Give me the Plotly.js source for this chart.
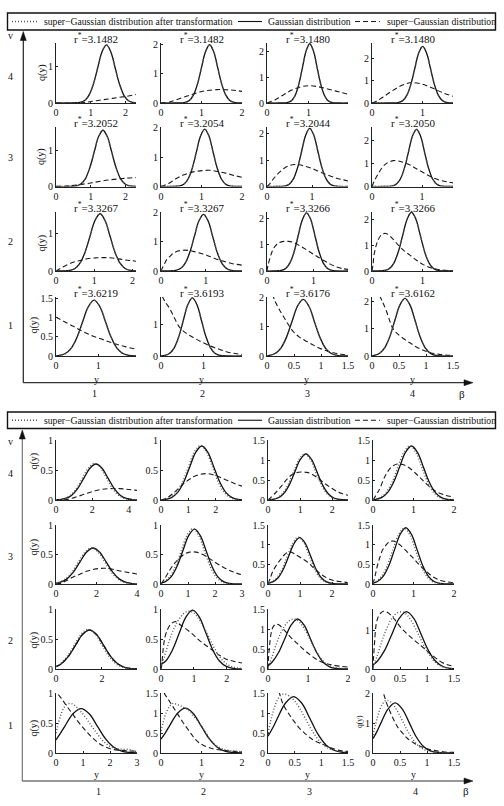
<!DOCTYPE html>
<html>
<head>
<meta charset="utf-8">
<script src="https://cdn.plot.ly/plotly-3.0.1.min.js"></script>
<style>
  html, body { margin: 0; padding: 0; background: #fff; }
  #chart { width: 504px; height: 806px; }
</style>
</head>
<body>
<div id="chart"></div>
<script>
// ---------------------------------------------------------------------------
// Curve samples q(y), written as [y, q] pairs. One array per row (v) and
// per series; each array holds the four panels β = 1, 2, 3, 4.
// Upper figure: transformed super-Gaussian coincides with the Gaussian.
// ---------------------------------------------------------------------------

// Upper figure, Gaussian distribution
const gaussA4 = [
  [[0,0],[0.45,0],[0.7,0.018],[0.825,0.07],[0.95,0.216],[1.075,0.52],[1.2,0.97],[1.325,1.412],[1.45,1.6],[1.575,1.412],[1.7,0.97],[1.825,0.52],[1.95,0.216],[2.075,0.07],[2.2,0.018],[2.3,0.004]],
  [[0,0],[0.35,0],[0.6,0.022],[0.7,0.088],[0.8,0.271],[0.9,0.649],[1.0,1.213],[1.1,1.765],[1.2,2.0],[1.3,1.765],[1.4,1.213],[1.5,0.649],[1.6,0.271],[1.7,0.088],[1.8,0.022],[2.0,0.001]],
  [[0,0],[0.3,0],[0.508,0.026],[0.595,0.101],[0.682,0.311],[0.769,0.747],[0.856,1.395],[0.943,2.03],[1.03,2.3],[1.117,2.03],[1.204,1.395],[1.291,0.747],[1.378,0.311],[1.465,0.101],[1.552,0.026],[1.75,0],[1.95,0]],
  [[0,0],[0.3,0],[0.532,0.028],[0.61,0.112],[0.688,0.345],[0.766,0.828],[0.844,1.547],[0.922,2.25],[1.0,2.55],[1.078,2.25],[1.156,1.547],[1.234,0.828],[1.312,0.345],[1.39,0.112],[1.468,0.028],[1.6,0.002]]
];
const gaussA3 = [
  [[0,0],[0.35,0],[0.588,0.017],[0.715,0.069],[0.842,0.212],[0.969,0.51],[1.096,0.952],[1.223,1.386],[1.35,1.57],[1.477,1.386],[1.604,0.952],[1.731,0.51],[1.858,0.212],[1.985,0.069],[2.112,0.017],[2.3,0.001]],
  [[0,0],[0.25,0],[0.468,0.022],[0.57,0.086],[0.672,0.264],[0.774,0.633],[0.876,1.183],[0.978,1.721],[1.08,1.95],[1.182,1.721],[1.284,1.183],[1.386,0.633],[1.488,0.264],[1.59,0.086],[1.692,0.022],[2.0,0]],
  [[0,0],[0.2,0],[0.41,0.024],[0.5,0.097],[0.59,0.298],[0.68,0.714],[0.77,1.334],[0.86,1.942],[0.95,2.2],[1.04,1.942],[1.13,1.334],[1.22,0.714],[1.31,0.298],[1.4,0.097],[1.49,0.024],[1.8,0]],
  [[0,0],[0.2,0],[0.41,0.028],[0.49,0.11],[0.57,0.338],[0.65,0.812],[0.73,1.516],[0.81,2.206],[0.89,2.5],[0.97,2.206],[1.05,1.516],[1.13,0.812],[1.21,0.338],[1.29,0.11],[1.37,0.028],[1.62,0]]
];
const gaussA2 = [
  [[0,0],[0.15,0.001],[0.364,0.017],[0.495,0.067],[0.626,0.206],[0.757,0.494],[0.888,0.922],[1.019,1.341],[1.15,1.52],[1.281,1.341],[1.412,0.922],[1.543,0.494],[1.674,0.206],[1.805,0.067],[1.936,0.017],[2.09,0.002]],
  [[0,0],[0.15,0.001],[0.332,0.021],[0.435,0.085],[0.538,0.261],[0.641,0.627],[0.744,1.171],[0.847,1.703],[0.95,1.93],[1.053,1.703],[1.156,1.171],[1.259,0.627],[1.362,0.261],[1.465,0.085],[1.568,0.021],[1.81,0]],
  [[0,0],[0.12,0],[0.31,0.024],[0.4,0.097],[0.49,0.298],[0.58,0.714],[0.67,1.334],[0.76,1.942],[0.85,2.2],[0.94,1.942],[1.03,1.334],[1.12,0.714],[1.21,0.298],[1.3,0.097],[1.39,0.024],[1.74,0]],
  [[0,0],[0.08,0.001],[0.258,0.026],[0.345,0.101],[0.432,0.311],[0.519,0.747],[0.606,1.395],[0.693,2.03],[0.78,2.3],[0.867,2.03],[0.954,1.395],[1.041,0.747],[1.128,0.311],[1.215,0.101],[1.302,0.026],[1.6,0]]
];
const gaussA1 = [
  [[0,0.006],[0.084,0.016],[0.22,0.065],[0.356,0.199],[0.492,0.477],[0.628,0.892],[0.764,1.297],[0.9,1.47],[1.036,1.297],[1.172,0.892],[1.308,0.477],[1.444,0.199],[1.58,0.065],[1.716,0.016],[1.89,0.003]],
  [[0,0.005],[0.092,0.021],[0.2,0.081],[0.308,0.25],[0.416,0.601],[0.524,1.122],[0.632,1.633],[0.74,1.85],[0.848,1.633],[0.956,1.122],[1.064,0.601],[1.172,0.25],[1.28,0.081],[1.388,0.021],[1.6,0.001],[1.91,0]],
  [[0,0.01],[0.046,0.021],[0.15,0.084],[0.254,0.26],[0.358,0.623],[0.462,1.164],[0.566,1.694],[0.67,1.92],[0.774,1.694],[0.878,1.164],[0.982,0.623],[1.086,0.26],[1.19,0.084],[1.294,0.021],[1.5,0]],
  [[0,0.012],[0.04,0.023],[0.135,0.092],[0.23,0.284],[0.325,0.682],[0.42,1.274],[0.515,1.853],[0.61,2.1],[0.705,1.853],[0.8,1.274],[0.895,0.682],[0.99,0.284],[1.085,0.092],[1.18,0.023],[1.5,0]]
];

// Upper figure, super-Gaussian distribution
const superA4 = [
  [[0,0],[0.5,0],[0.8,0.01],[1.0,0.04],[1.25,0.075],[1.5,0.11],[1.75,0.145],[2.0,0.18],[2.3,0.23]],
  [[0,0],[0.1,0.005],[0.21,0.03],[0.4,0.12],[0.63,0.23],[0.8,0.31],[0.96,0.38],[1.15,0.43],[1.38,0.46],[1.6,0.455],[1.79,0.44],[2.0,0.4]],
  [[0,0],[0.2,0.13],[0.41,0.33],[0.6,0.5],[0.82,0.63],[1.02,0.67],[1.2,0.64],[1.4,0.57],[1.64,0.47],[1.8,0.4],[1.95,0.34]],
  [[0,0],[0.1,0.1],[0.22,0.27],[0.38,0.52],[0.55,0.75],[0.68,0.87],[0.79,0.92],[0.95,0.87],[1.08,0.78],[1.22,0.65],[1.4,0.46],[1.6,0.3]]
];
const superA3 = [
  [[0,0],[0.3,0.01],[0.6,0.04],[1.0,0.1],[1.5,0.18],[2.0,0.23],[2.3,0.25]],
  [[0,0],[0.1,0.05],[0.22,0.13],[0.38,0.27],[0.55,0.39],[0.75,0.48],[0.96,0.53],[1.21,0.55],[1.42,0.5],[1.63,0.44],[1.82,0.37],[2.0,0.31]],
  [[0,0],[0.07,0.12],[0.16,0.33],[0.28,0.54],[0.39,0.7],[0.5,0.79],[0.61,0.83],[0.72,0.82],[0.84,0.77],[1.0,0.68],[1.22,0.52],[1.52,0.33],[1.8,0.21]],
  [[0,0],[0.06,0.3],[0.13,0.58],[0.2,0.82],[0.27,0.98],[0.35,1.08],[0.43,1.13],[0.52,1.12],[0.6,1.07],[0.75,0.95],[0.87,0.8],[1.03,0.6],[1.2,0.4],[1.4,0.25],[1.62,0.16]]
];
const superA2 = [
  [[0,0],[0.1,0.06],[0.28,0.16],[0.45,0.23],[0.63,0.28],[0.85,0.33],[1.06,0.35],[1.25,0.355],[1.41,0.35],[1.6,0.33],[1.76,0.3],[1.93,0.28],[2.09,0.26]],
  [[0,0],[0.03,0.1],[0.07,0.22],[0.12,0.37],[0.2,0.5],[0.27,0.6],[0.38,0.68],[0.5,0.71],[0.62,0.7],[0.72,0.67],[0.87,0.61],[1.02,0.54],[1.2,0.43],[1.4,0.33],[1.6,0.25],[1.81,0.2]],
  [[0,0],[0.02,0.2],[0.07,0.53],[0.12,0.78],[0.18,0.95],[0.27,1.08],[0.36,1.12],[0.46,1.12],[0.57,1.08],[0.7,0.96],[0.86,0.79],[1.03,0.6],[1.21,0.41],[1.36,0.26],[1.5,0.15],[1.62,0.09],[1.74,0.06]],
  [[0,0],[0.02,0.25],[0.04,0.62],[0.08,0.98],[0.12,1.21],[0.17,1.38],[0.22,1.46],[0.27,1.47],[0.32,1.43],[0.42,1.24],[0.52,1.01],[0.63,0.8],[0.75,0.62],[0.88,0.42],[1.01,0.25],[1.14,0.14],[1.28,0.07],[1.44,0.03],[1.6,0.01]]
];
const superA1 = [
  [[0,1.02],[0.2,0.9],[0.41,0.78],[0.57,0.68],[0.72,0.6],[0.88,0.52],[1.04,0.46],[1.23,0.38],[1.43,0.31],[1.65,0.24],[1.89,0.18]],
  [[0.03,1.9],[0.1,1.72],[0.21,1.5],[0.32,1.2],[0.44,0.91],[0.6,0.72],[0.76,0.59],[0.95,0.45],[1.16,0.32],[1.36,0.22],[1.56,0.13],[1.75,0.08],[1.91,0.05]],
  [[0.1,2.1],[0.14,1.9],[0.22,1.6],[0.31,1.32],[0.4,1.05],[0.49,0.82],[0.6,0.64],[0.74,0.49],[0.87,0.36],[0.99,0.25],[1.11,0.17],[1.23,0.11],[1.37,0.06],[1.5,0.03]],
  [[0.14,2.2],[0.2,1.95],[0.27,1.62],[0.33,1.27],[0.39,0.99],[0.46,0.83],[0.58,0.64],[0.7,0.48],[0.83,0.32],[0.95,0.21],[1.08,0.12],[1.25,0.06],[1.5,0.02]]
];

// Lower figure, Gaussian distribution
const gaussB4 = [
  [[0,0.004],[0.202,0.007],[0.535,0.026],[0.868,0.081],[1.201,0.195],[1.534,0.364],[1.867,0.53],[2.2,0.6],[2.533,0.53],[2.866,0.364],[3.199,0.195],[3.532,0.081],[3.865,0.026],[4.198,0.007],[4.46,0.003]],
  [[0,0.003],[0.158,0.01],[0.38,0.04],[0.602,0.122],[0.824,0.292],[1.046,0.546],[1.268,0.794],[1.49,0.9],[1.712,0.794],[1.934,0.546],[2.156,0.292],[2.378,0.122],[2.6,0.04],[2.822,0.01],[2.96,0.004]],
  [[0,0.004],[0.136,0.013],[0.31,0.05],[0.484,0.156],[0.658,0.373],[0.832,0.697],[1.006,1.015],[1.18,1.15],[1.354,1.015],[1.528,0.697],[1.702,0.373],[1.876,0.156],[2.05,0.05],[2.224,0.013],[2.49,0.001]],
  [[0,0.008],[0.062,0.015],[0.21,0.059],[0.358,0.183],[0.506,0.438],[0.654,0.819],[0.802,1.191],[0.95,1.35],[1.098,1.191],[1.246,0.819],[1.394,0.438],[1.542,0.183],[1.69,0.059],[1.838,0.015],[2.0,0.003]]
];
const gaussB3 = [
  [[0,0.012],[0.195,0.027],[0.522,0.083],[0.849,0.198],[1.176,0.37],[1.503,0.538],[1.83,0.61],[2.157,0.538],[2.484,0.37],[2.811,0.198],[3.138,0.083],[3.465,0.027],[3.792,0.007],[4.0,0.003]],
  [[0,0.015],[0.165,0.041],[0.38,0.126],[0.595,0.302],[0.81,0.564],[1.025,0.821],[1.24,0.93],[1.455,0.821],[1.67,0.564],[1.885,0.302],[2.1,0.126],[2.315,0.041],[2.53,0.01],[3.0,0]],
  [[0,0.016],[0.145,0.052],[0.314,0.16],[0.483,0.383],[0.652,0.716],[0.821,1.041],[0.99,1.18],[1.159,1.041],[1.328,0.716],[1.497,0.383],[1.666,0.16],[1.835,0.052],[2.004,0.013],[2.5,0]],
  [[0,0.021],[0.11,0.063],[0.25,0.193],[0.39,0.464],[0.53,0.867],[0.67,1.262],[0.81,1.43],[0.95,1.262],[1.09,0.867],[1.23,0.464],[1.37,0.193],[1.51,0.063],[1.65,0.016],[2.0,0]]
];
const gaussB2 = [
  [[0,0.038],[0.234,0.088],[0.541,0.211],[0.848,0.394],[1.153,0.574],[1.46,0.65],[1.767,0.574],[2.074,0.394],[2.381,0.211],[2.688,0.088],[2.995,0.029],[3.302,0.007],[3.53,0.002]],
  [[0,0.08],[0.144,0.133],[0.348,0.318],[0.552,0.594],[0.756,0.865],[0.96,0.98],[1.164,0.865],[1.368,0.594],[1.572,0.318],[1.776,0.133],[1.98,0.043],[2.184,0.011],[2.45,0.001]],
  [[0,0.085],[0.1,0.169],[0.26,0.406],[0.42,0.758],[0.58,1.103],[0.74,1.25],[0.9,1.103],[1.06,0.758],[1.22,0.406],[1.38,0.169],[1.54,0.055],[1.7,0.014],[2.0,0.001]],
  [[0,0.105],[0.08,0.2],[0.215,0.481],[0.35,0.898],[0.485,1.306],[0.62,1.48],[0.755,1.306],[0.89,0.898],[1.025,0.481],[1.16,0.2],[1.295,0.065],[1.43,0.016],[1.5,0.007]]
];
const gaussB1 = [
  [[0,0.22],[0.18,0.339],[0.33,0.449],[0.63,0.653],[0.93,0.74],[1.23,0.653],[1.53,0.449],[1.83,0.24],[2.13,0.1],[2.43,0.032],[2.73,0.008],[3.0,0.002]],
  [[0,0.35],[0.1,0.49],[0.21,0.679],[0.405,0.988],[0.6,1.12],[0.795,0.988],[0.99,0.679],[1.185,0.364],[1.38,0.152],[1.575,0.049],[1.77,0.012],[2.0,0.002]],
  [[0,0.42],[0.09,0.63],[0.172,0.855],[0.326,1.244],[0.48,1.41],[0.634,1.244],[0.788,0.855],[0.942,0.458],[1.096,0.191],[1.25,0.062],[1.404,0.016],[1.5,0.006]],
  [[0,0.48],[0.075,0.72],[0.15,1.013],[0.28,1.474],[0.41,1.67],[0.54,1.474],[0.67,1.013],[0.8,0.542],[0.93,0.226],[1.06,0.073],[1.19,0.019],[1.32,0.004],[1.5,0]]
];

// Lower figure, super-Gaussian distribution after transformation
const transB4 = [
  [[0,0.004],[0.158,0.007],[0.485,0.027],[0.812,0.083],[1.139,0.198],[1.466,0.37],[1.793,0.538],[2.12,0.61],[2.447,0.538],[2.774,0.37],[3.101,0.198],[3.428,0.083],[3.755,0.027],[4.082,0.007],[4.46,0.002]],
  [[0,0.004],[0.126,0.01],[0.345,0.04],[0.564,0.123],[0.783,0.295],[1.002,0.552],[1.221,0.803],[1.44,0.91],[1.659,0.803],[1.878,0.552],[2.097,0.295],[2.316,0.123],[2.535,0.04],[2.754,0.01],[2.96,0.002]],
  [[0,0.005],[0.096,0.013],[0.27,0.05],[0.444,0.156],[0.618,0.373],[0.792,0.697],[0.966,1.015],[1.14,1.15],[1.314,1.015],[1.488,0.697],[1.662,0.373],[1.836,0.156],[2.01,0.05],[2.184,0.013],[2.49,0.001]],
  [[0,0.012],[0.17,0.059],[0.318,0.183],[0.466,0.438],[0.614,0.819],[0.762,1.191],[0.91,1.35],[1.058,1.191],[1.206,0.819],[1.354,0.438],[1.502,0.183],[1.65,0.059],[1.798,0.015],[2.0,0.002]]
];
const transB3 = [
  [[0,0.016],[0.125,0.027],[0.452,0.083],[0.779,0.198],[1.106,0.37],[1.433,0.538],[1.76,0.61],[2.087,0.538],[2.414,0.37],[2.741,0.198],[3.068,0.083],[3.395,0.027],[3.722,0.007],[4.0,0.002]],
  [[0,0.02],[0.12,0.041],[0.332,0.127],[0.544,0.305],[0.756,0.57],[0.968,0.83],[1.18,0.94],[1.392,0.83],[1.604,0.57],[1.816,0.305],[2.028,0.127],[2.24,0.041],[2.452,0.01],[3.0,0]],
  [[0,0.022],[0.11,0.052],[0.278,0.161],[0.446,0.386],[0.614,0.722],[0.782,1.05],[0.95,1.19],[1.118,1.05],[1.286,0.722],[1.454,0.386],[1.622,0.161],[1.79,0.052],[1.958,0.013],[2.5,0]],
  [[0,0.03],[0.07,0.062],[0.21,0.192],[0.35,0.461],[0.49,0.861],[0.63,1.253],[0.77,1.42],[0.91,1.253],[1.05,0.861],[1.19,0.461],[1.33,0.192],[1.47,0.062],[1.61,0.016],[2.0,0]]
];
const transB2 = [
  [[0,0.045],[0.192,0.089],[0.494,0.214],[0.796,0.4],[1.098,0.582],[1.4,0.66],[1.702,0.582],[2.004,0.4],[2.306,0.214],[2.608,0.089],[2.91,0.029],[3.212,0.007],[3.53,0.001]],
  [[0,0.05],[0.1,0.2],[0.2,0.38],[0.3,0.55],[0.4,0.68],[0.5,0.79],[0.6,0.87],[0.7,0.93],[0.8,0.96],[0.9,0.96],[1.0,0.93],[1.1,0.87],[1.2,0.79],[1.4,0.59],[1.6,0.37],[1.8,0.19],[2.0,0.08],[2.2,0.03],[2.45,0.01]],
  [[0,0.05],[0.1,0.3],[0.2,0.6],[0.3,0.86],[0.4,1.05],[0.5,1.18],[0.6,1.24],[0.7,1.24],[0.8,1.16],[0.9,1.02],[1.0,0.84],[1.1,0.64],[1.2,0.46],[1.3,0.3],[1.4,0.18],[1.5,0.1],[1.65,0.04],[1.8,0.02],[2.0,0.01]],
  [[0,0.05],[0.08,0.35],[0.16,0.7],[0.24,1.0],[0.32,1.24],[0.4,1.4],[0.48,1.47],[0.56,1.47],[0.64,1.38],[0.72,1.22],[0.8,1.01],[0.88,0.78],[0.96,0.56],[1.04,0.37],[1.12,0.22],[1.2,0.12],[1.3,0.05],[1.4,0.02],[1.5,0.01]]
];
const transB1 = [
  [[0,0.33],[0.1,0.52],[0.2,0.66],[0.3,0.76],[0.45,0.82],[0.6,0.82],[0.75,0.77],[0.9,0.7],[1.1,0.59],[1.3,0.46],[1.5,0.34],[1.7,0.22],[1.9,0.14],[2.1,0.09],[2.3,0.07],[2.5,0.06],[2.7,0.06],[2.85,0.04],[3.0,0.02]],
  [[0,0.55],[0.05,0.75],[0.1,0.93],[0.15,1.06],[0.22,1.18],[0.3,1.24],[0.38,1.22],[0.5,1.17],[0.68,1.07],[0.8,0.93],[0.95,0.74],[1.08,0.55],[1.2,0.36],[1.32,0.22],[1.45,0.14],[1.6,0.08],[1.8,0.05],[2.0,0.03]],
  [[0,0.5],[0.05,0.8],[0.1,1.05],[0.15,1.25],[0.2,1.38],[0.26,1.46],[0.32,1.47],[0.4,1.42],[0.5,1.3],[0.6,1.1],[0.7,0.86],[0.8,0.62],[0.9,0.41],[1.0,0.25],[1.1,0.14],[1.2,0.08],[1.35,0.04],[1.5,0.02]],
  [[0,0.6],[0.04,0.9],[0.08,1.18],[0.12,1.42],[0.17,1.62],[0.22,1.73],[0.27,1.75],[0.33,1.7],[0.4,1.55],[0.48,1.3],[0.56,1.02],[0.64,0.74],[0.72,0.5],[0.8,0.31],[0.9,0.16],[1.0,0.08],[1.15,0.03],[1.5,0]]
];

// Lower figure, super-Gaussian distribution (v = 2, β = 1 lies on the Gaussian)
const superB4 = [
  [[0,0],[0.5,0.003],[1,0.04],[1.5,0.09],[2,0.14],[2.5,0.175],[3,0.19],[3.5,0.19],[4,0.175],[4.46,0.16]],
  [[0,0],[0.2,0.03],[0.44,0.11],[0.7,0.22],[0.93,0.31],[1.2,0.39],[1.45,0.43],[1.67,0.44],[1.9,0.42],[2.16,0.38],[2.4,0.33],[2.66,0.28],[2.96,0.23]],
  [[0,0],[0.2,0.15],[0.41,0.34],[0.6,0.53],[0.8,0.66],[1.03,0.7],[1.2,0.69],[1.33,0.66],[1.55,0.55],[1.74,0.43],[1.95,0.31],[2.15,0.21],[2.3,0.16],[2.49,0.12]],
  [[0,0],[0.15,0.25],[0.3,0.6],[0.45,0.82],[0.6,0.9],[0.75,0.88],[0.9,0.8],[1.1,0.62],[1.3,0.42],[1.5,0.25],[1.75,0.13],[2.0,0.07]]
];
const superB3 = [
  [[0,0],[0.3,0.02],[0.53,0.06],[0.85,0.12],[1.2,0.17],[1.55,0.22],[1.87,0.25],[2.2,0.265],[2.5,0.265],[2.8,0.25],[3.1,0.225],[3.5,0.2],[4.0,0.17]],
  [[0,0],[0.15,0.1],[0.32,0.23],[0.5,0.35],[0.69,0.44],[0.88,0.51],[1.06,0.54],[1.3,0.54],[1.55,0.5],[1.8,0.43],[2.1,0.34],[2.41,0.26],[2.7,0.2],[2.96,0.16]],
  [[0,0],[0.07,0.15],[0.15,0.32],[0.28,0.5],[0.41,0.64],[0.52,0.75],[0.62,0.81],[0.72,0.81],[0.82,0.77],[1.0,0.68],[1.23,0.56],[1.44,0.4],[1.64,0.26],[1.85,0.15],[2.05,0.09],[2.27,0.06],[2.49,0.04]],
  [[0,0],[0.05,0.2],[0.11,0.47],[0.17,0.68],[0.23,0.85],[0.32,0.99],[0.4,1.07],[0.46,1.09],[0.52,1.09],[0.6,1.04],[0.68,0.98],[0.85,0.81],[1.01,0.64],[1.17,0.46],[1.34,0.3],[1.5,0.17],[1.67,0.09],[1.85,0.05],[2.0,0.03]]
];
const superB2 = [
  gaussB2[0],
  [[0,0],[0.02,0.05],[0.06,0.3],[0.12,0.53],[0.2,0.66],[0.3,0.75],[0.44,0.79],[0.6,0.73],[0.78,0.66],[1.0,0.56],[1.18,0.47],[1.4,0.38],[1.59,0.3],[1.8,0.22],[2.0,0.16],[2.2,0.13],[2.46,0.1]],
  [[0,0],[0.015,0.3],[0.04,0.6],[0.08,0.9],[0.13,1.06],[0.2,1.12],[0.28,1.1],[0.4,0.98],[0.58,0.78],[0.75,0.62],[0.9,0.48],[1.06,0.35],[1.23,0.23],[1.4,0.15],[1.56,0.11],[1.8,0.07],[2.0,0.05]],
  [[0,0],[0.01,0.3],[0.03,0.7],[0.06,1.17],[0.1,1.36],[0.14,1.44],[0.19,1.49],[0.24,1.48],[0.3,1.43],[0.4,1.28],[0.51,1.08],[0.63,0.91],[0.76,0.75],[0.89,0.6],[1.01,0.45],[1.13,0.32],[1.25,0.19],[1.38,0.11],[1.5,0.07]]
];
const superB1 = [
  [[0,1.1],[0.05,1.0],[0.2,0.91],[0.4,0.78],[0.6,0.66],[0.77,0.55],[0.95,0.45],[1.14,0.35],[1.33,0.26],[1.51,0.19],[1.7,0.13],[1.88,0.09],[2.1,0.06],[2.4,0.045],[2.7,0.035],[3.0,0.03]],
  [[0.04,1.7],[0.08,1.5],[0.16,1.37],[0.25,1.23],[0.33,1.1],[0.42,0.96],[0.52,0.8],[0.63,0.64],[0.75,0.47],[0.85,0.34],[0.95,0.25],[1.05,0.19],[1.2,0.13],[1.35,0.09],[1.6,0.06],[1.8,0.04],[2.0,0.03]],
  [[0.17,1.75],[0.22,1.47],[0.28,1.23],[0.35,1.06],[0.42,0.92],[0.5,0.77],[0.61,0.59],[0.7,0.48],[0.79,0.38],[0.9,0.29],[1.04,0.21],[1.16,0.14],[1.29,0.08],[1.4,0.05],[1.5,0.04]],
  [[0.14,2.2],[0.2,1.95],[0.25,1.67],[0.3,1.45],[0.34,1.28],[0.4,1.05],[0.47,0.83],[0.55,0.66],[0.63,0.5],[0.75,0.34],[0.88,0.22],[1.0,0.14],[1.13,0.09],[1.3,0.04],[1.5,0.02]]
];

// Optimal scale r* printed over each panel of the upper figure (rows v = 4..1)
const rStarA = [
  ['3.1482', '3.1482', '3.1480', '3.1480'],
  ['3.2052', '3.2054', '3.2044', '3.2050'],
  ['3.3267', '3.3267', '3.3266', '3.3266'],
  ['3.6219', '3.6193', '3.6176', '3.6162']
];

// Axis extents and tick values, rows v = 4..1, columns β = 1..4
const xMaxA = [[2.3, 2.0, 1.95, 1.6], [2.3, 2.0, 1.8, 1.62], [2.09, 1.81, 1.74, 1.6], [1.89, 1.91, 1.5, 1.5]];
const yMaxA = [[1.65, 2.06, 2.33, 2.7], [1.66, 2.02, 2.25, 2.6], [1.58, 2.03, 2.25, 2.33], [1.55, 1.88, 2.0, 2.15]];
const xTicksA = [
  [[0,1,2], [0,1,2], [0,1], [0,1]],
  [[0,1,2], [0,1,2], [0,1], [0,1]],
  [[0,1,2], [0,1], [0,1], [0,1]],
  [[0,1], [0,1], [0,0.5,1,1.5], [0,0.5,1,1.5]]
];
const yTicksA = [
  [[0,1], [0,1,2], [0,1,2], [0,1,2]],
  [[0,1], [0,1,2], [0,1,2], [0,1,2]],
  [[0,1], [0,1,2], [0,1,2], [0,1,2]],
  [[0,0.5,1,1.5], [0,1], [0,1,2], [0,1,2]]
];
const xMaxB = [[4.46, 2.96, 2.49, 2.0], [4.0, 3.0, 2.5, 2.0], [3.53, 2.46, 2.0, 1.5], [3.0, 2.0, 1.5, 1.5]];
const yMaxB = [[1, 1, 1.5, 1.5], [1, 1, 1.5, 1.5], [1, 1, 1.5, 1.55], [1, 1.5, 1.5, 2]];
const xTicksB = [
  [[0,2,4], [0,1,2,3], [0,1,2], [0,1,2]],
  [[0,2,4], [0,1,2,3], [0,1,2], [0,1,2]],
  [[0,2], [0,1,2], [0,1,2], [0,0.5,1,1.5]],
  [[0,1,2,3], [0,1,2], [0,0.5,1,1.5], [0,0.5,1,1.5]]
];
const yTicksB = [
  [[0,0.5,1], [0,0.5,1], [0,0.5,1,1.5], [0,0.5,1,1.5]],
  [[0,0.5,1], [0,0.5,1], [0,0.5,1,1.5], [0,0.5,1,1.5]],
  [[0,0.5,1], [0,0.5,1], [0,0.5,1,1.5], [0,1]],
  [[0,0.5,1], [0,0.5,1,1.5], [0,0.5,1,1.5], [0,1,2]]
];

const rowLabels = ['4', '3', '2', '1'];
const colLabels = ['1', '2', '3', '4'];
const legendTexts = ['super\u2212Gaussian distribution after transformation', 'Gaussian distribution', 'super\u2212Gaussian distribution'];

// ---------------------------------------------------------------------------
// Page geometry (pixels) and styling
// ---------------------------------------------------------------------------
const W = 504, H = 806;
const px = v => v / W;
const py = v => 1 - v / H;
const SERIF = 'Liberation Serif, Times New Roman, serif';

const figA = {
  cols: [[56, 136], [161, 242], [267, 348], [372, 453]],
  rows: [[43, 103], [127, 186.5], [211.5, 271], [297, 356]],
  legendY: [13, 30], vArrowX: 23.3, vArrowTop: 31.5, hArrowY: 382.7, arrowColorV: '#222',
  vLabelY: 36, rowLabelY: [76, 157, 241, 326], qLabel: [[42, 73], [41, 157], [41.5, 243], [33.5, 325]],
  yLabelY: 379.5, yLabelX: [96, 201, 306, 412], colLabelY: 393.5, colLabelX: [94, 202, 307, 412], betaX: 462
};
const figB = {
  cols: [[56, 137], [161, 242], [268, 348], [373, 454]],
  rows: [[440, 500], [525, 584], [609, 669], [693, 753]],
  legendY: [412, 428.5], vArrowX: 22.3, vArrowTop: 430, hArrowY: 781, arrowColorV: '#777',
  vLabelY: 441, rowLabelY: [473, 556, 640, 725], qLabel: [[33.5, 461], [33.5, 547], [33.5, 640], [33.5, 728]],
  yLabelY: 774, yLabelX: [96, 201.5, 307, 413], colLabelY: 791, colLabelX: [98, 203, 309, 415], betaX: 466
};

const axisCommon = {
  showgrid: false, zeroline: false, showline: true, linecolor: '#222', linewidth: 1,
  ticks: 'inside', ticklen: 2, tickwidth: 1, tickcolor: '#222', tickangle: 0,
  tickfont: { family: SERIF, size: 10, color: '#111' }, fixedrange: true
};
const styles = {
  superG: { color: '#1a1a1a', width: 1.1, dash: '5px,3px', shape: 'spline' },
  gauss:  { color: '#111', width: 1.3, shape: 'spline' },
  trans:  { color: '#555', width: 1.4, dash: '1px,2px', shape: 'spline' }
};

const traces = [];
const layout = {
  width: W, height: H, margin: { l: 0, r: 0, t: 0, b: 0 },
  paper_bgcolor: '#fff', plot_bgcolor: 'rgba(0,0,0,0)', showlegend: false,
  shapes: [], annotations: []
};

function curve(points, kind, xid, yid) {
  return {
    type: 'scatter', mode: 'lines', xaxis: xid, yaxis: yid,
    x: points.map(p => p[0]), y: points.map(p => p[1]),
    line: styles[kind], hoverinfo: 'skip'
  };
}
function note(x, y, text, size, extra) {
  layout.annotations.push(Object.assign({
    xref: 'paper', yref: 'paper', x: px(x), y: py(y), text: text, showarrow: false,
    font: { family: SERIF, size: size, color: '#111' }, xanchor: 'center', yanchor: 'middle'
  }, extra || {}));
}
function seg(x0, y0, x1, y1, line) {
  layout.shapes.push({ type: 'line', xref: 'paper', yref: 'paper',
    x0: px(x0), y0: py(y0), x1: px(x1), y1: py(y1), line: line });
}
function tri(pts, color) {
  const d = 'M ' + pts.map(p => px(p[0]) + ',' + py(p[1])).join(' L ') + ' Z';
  layout.shapes.push({ type: 'path', xref: 'paper', yref: 'paper', path: d,
    fillcolor: color, line: { color: color, width: 0.5 } });
}

let n = 0;
function buildFigure(fig, series, xMax, yMax, xTicks, yTicks, rStar) {
  for (let r = 0; r < 4; r++) {
    for (let c = 0; c < 4; c++) {
      n++;
      const xid = n === 1 ? 'x' : 'x' + n;
      const yid = n === 1 ? 'y' : 'y' + n;
      layout[n === 1 ? 'xaxis' : 'xaxis' + n] = Object.assign({}, axisCommon, {
        domain: [px(fig.cols[c][0]), px(fig.cols[c][1])], range: [0, xMax[r][c]],
        tickvals: xTicks[r][c], anchor: yid
      });
      layout[n === 1 ? 'yaxis' : 'yaxis' + n] = Object.assign({}, axisCommon, {
        domain: [py(fig.rows[r][1]), py(fig.rows[r][0])], range: [0, yMax[r][c]],
        tickvals: yTicks[r][c], anchor: xid
      });
      traces.push(curve(series.superG[r][c], 'superG', xid, yid));
      traces.push(curve(series.gauss[r][c], 'gauss', xid, yid));
      traces.push(curve(series.trans[r][c], 'trans', xid, yid));
      if (rStar) {
        note((fig.cols[c][0] + fig.cols[c][1]) / 2, fig.rows[r][0] + 3,
          'r<sup>*</sup>=' + rStar[r][c], 11, { yanchor: 'bottom', borderpad: 0 });
      }
    }
    note(10, fig.rowLabelY[r], rowLabels[r], 10);
    note(fig.qLabel[r][0], fig.qLabel[r][1], 'q(y)', 10, { textangle: -90 });
  }
  // legend frame with line samples
  const ly = fig.legendY, lc = (ly[0] + ly[1]) / 2;
  layout.shapes.push({ type: 'rect', xref: 'paper', yref: 'paper',
    x0: px(7.5), x1: px(495.5), y0: py(ly[1]), y1: py(ly[0]), line: { color: '#111', width: 1.4 } });
  seg(12, lc, 37, lc, { color: '#555', width: 1.4, dash: '1px,2px' });
  seg(238, lc, 262, lc, { color: '#111', width: 1.1 });
  seg(355, lc, 380, lc, { color: '#1a1a1a', width: 1.1, dash: '5px,3px' });
  note(41.5, lc, legendTexts[0], 9.7, { xanchor: 'left' });
  note(265.5, lc, legendTexts[1], 9.7, { xanchor: 'left' });
  note(384.5, lc, legendTexts[2], 9.7, { xanchor: 'left' });
  // v and β arrows
  const ax = fig.vArrowX, ay = fig.hArrowY;
  seg(ax, ay, ax, fig.vArrowTop + 7, { color: fig.arrowColorV, width: 1.2 });
  tri([[ax, fig.vArrowTop], [ax - 3, fig.vArrowTop + 9], [ax + 3, fig.vArrowTop + 9]], '#111');
  seg(ax, ay, 466, ay, { color: '#333', width: 1.2 });
  tri([[473, ay], [464, ay - 3], [464, ay + 3]], '#111');
  note(10, fig.vLabelY, 'v', 10);
  note(fig.betaX, fig.colLabelY, '\u03b2', 11);
  for (let c = 0; c < 4; c++) {
    note(fig.colLabelX[c], fig.colLabelY, colLabels[c], 10);
    note(fig.yLabelX[c], fig.yLabelY, 'y', 10);
  }
}

buildFigure(figA,
  { gauss: [gaussA4, gaussA3, gaussA2, gaussA1], trans: [gaussA4, gaussA3, gaussA2, gaussA1],
    superG: [superA4, superA3, superA2, superA1] },
  xMaxA, yMaxA, xTicksA, yTicksA, rStarA);
buildFigure(figB,
  { gauss: [gaussB4, gaussB3, gaussB2, gaussB1], trans: [transB4, transB3, transB2, transB1],
    superG: [superB4, superB3, superB2, superB1] },
  xMaxB, yMaxB, xTicksB, yTicksB, null);

// small axis label beside the last lower panel
note(359, 722, 'q(y)', 7.5, { textangle: -90 });

Plotly.newPlot('chart', traces, layout, { displayModeBar: false, staticPlot: true });
</script>
</body>
</html>
